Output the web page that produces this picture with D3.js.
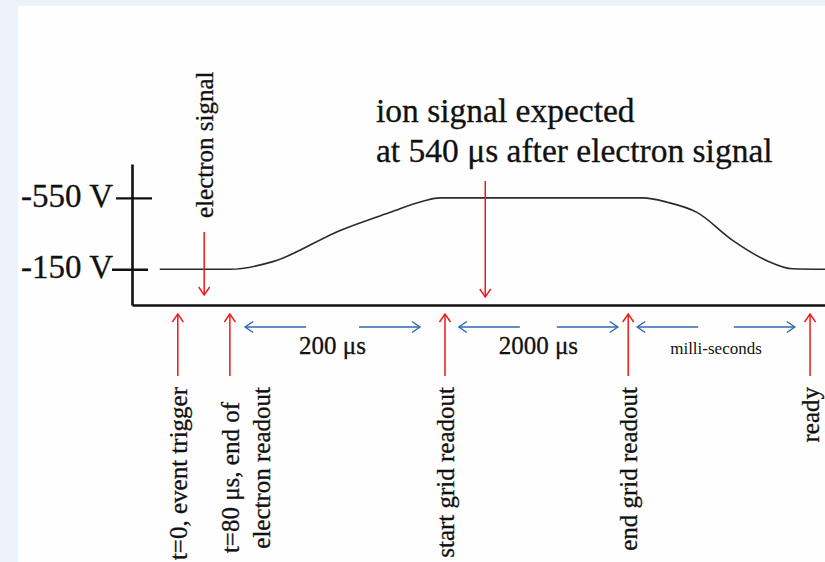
<!DOCTYPE html>
<html>
  <head>
    <meta charset="utf-8" />
    <style>
      body { margin: 0; }
    </style>
  </head>
  <body>

<svg id="graph"></svg>

<script src="https://d3js.org/d3.v7.min.js"></script>
<script>
const WIDTH = 825
const HEIGHT = 562
const FONT = '"Liberation Serif", "Times New Roman", serif'

// schematic time (arbitrary units, 0..1000) of the events under the axis
const EVENT_T = [66, 141, 451, 715, 977]
const EVENT_LABELS = [
  ['t=0, event trigger'],
  ['t=80 μs, end of', 'electron readout'],
  ['start grid readout'],
  ['end grid readout'],
  ['ready'],
]
// durations between events (blue double arrows)
const SPAN_FROM = [163, 471, 728]
const SPAN_TO = [415, 700, 955]
const SPAN_LABELS = ['200 μs', '2000 μs', 'milli-seconds']
// grid voltage along the time line
const CURVE_T = [40, 141, 203, 300, 372, 419, 444, 736, 771, 814, 866, 915, 952, 999]
const CURVE_V = [-150, -150, -193, -368, -469, -531, -550, -550, -526, -469, -311, -198, -153, -150]
// voltage ticks
const V_TICKS = [-550, -150]
// signals
const ELECTRON_T = 104
const ION_T = 509
const ION_TEXT = ['ion signal expected', 'at 540 μs after electron signal']

const RED = '#f01818'
const BLUE = '#2f67b1'

const x = d3.scaleLinear().domain([0, 1000]).range([132, 826])
const y = d3.scaleLinear().domain([50, -740]).range([305, 164])

const svg = d3.select('#graph')
  .attr('width', WIDTH)
  .attr('height', HEIGHT)
  .attr('font-family', FONT)

// fond bleu clair + zone blanche
svg.append('rect').attr('width', WIDTH).attr('height', HEIGHT).attr('fill', '#ebf3fb')
svg.append('rect').attr('x', 18).attr('y', 6).attr('width', WIDTH).attr('height', HEIGHT).attr('fill', '#fefefe')

// têtes de flèches ouvertes
const defs = svg.append('defs')
;[['red', RED], ['blue', BLUE]].forEach(([id, c]) => {
  defs.append('marker')
    .attr('id', 'head-' + id)
    .attr('viewBox', '-10 -7 12 14')
    .attr('markerWidth', 12)
    .attr('markerHeight', 14)
    .attr('markerUnits', 'userSpaceOnUse')
    .attr('refX', 0)
    .attr('refY', 0)
    .attr('orient', 'auto')
    .append('path')
      .attr('d', 'M-8,-5.5L0,0L-8,5.5')
      .attr('fill', 'none')
      .attr('stroke', c)
      .attr('stroke-width', 1.4)
})

// axe Y
const axisY = d3.axisLeft(y)
  .tickValues(V_TICKS)
  .tickSize(0)
  .tickSizeOuter(0)
  .tickPadding(19)
  .tickFormat(d => `${d} V`)

svg.append('g')
  .attr('transform', `translate(${x(0)},0)`)
  .call(axisY)
  .call(g => g.select('.domain').attr('stroke', '#111').attr('stroke-width', 2.6))
  .call(g => g.selectAll('.tick line')
    .attr('x1', (d, i) => i === 0 ? -16 : -20)
    .attr('x2', (d, i) => i === 0 ? 20 : 16)
    .attr('stroke', '#111').attr('stroke-width', 2.4))
  .call(g => g.selectAll('.tick text')
    .attr('font-size', 33)
    .attr('dy', '0.25em'))

// axe X (ligne seule)
svg.append('g')
  .attr('transform', `translate(0,${y(50)})`)
  .call(d3.axisBottom(x).tickValues([]).tickSizeOuter(0))
  .call(g => g.select('.domain').attr('stroke', '#111').attr('stroke-width', 2.6))

// tension de la grille
const line = d3.line()
  .x(d => x(d[0]))
  .y(d => y(d[1]))
  .curve(d3.curveMonotoneX)

svg.append('path')
  .datum(d3.zip(CURVE_T, CURVE_V))
  .attr('d', line)
  .attr('fill', 'none')
  .attr('stroke', '#2a2a2a')
  .attr('stroke-width', 1.6)

// flèches rouges vers le haut (événements)
svg.append('g').selectAll('line')
  .data(EVENT_T)
  .join('line')
    .attr('x1', d => x(d)).attr('x2', d => x(d))
    .attr('y1', 376).attr('y2', 314)
    .attr('stroke', RED)
    .attr('stroke-width', 1.5)
    .attr('marker-end', 'url(#head-red)')

// textes verticaux des événements
svg.append('g').selectAll('text')
  .data(EVENT_T.map((t, i) => ({ t, lines: EVENT_LABELS[i] })))
  .join('text')
    .attr('transform', d => `translate(${x(d.t)},387) rotate(-90)`)
    .attr('text-anchor', 'end')
    .attr('font-size', 25)
    .selectAll('tspan')
    .data(d => d.lines)
    .join('tspan')
      .attr('x', (d, i, n) => n.length > 1 && i === 0 ? -15 : 0)
      .attr('y', (d, i) => i * 31)
      .attr('dy', '0.35em')
      .text(d => d)

// flèches bleues des durées
const spans = svg.append('g').selectAll('g')
  .data(SPAN_LABELS.map((label, i) => ({ from: SPAN_FROM[i], to: SPAN_TO[i], label })))
  .join('g')

const STUB = 61
spans.append('line')
  .attr('x1', d => x(d.from) + STUB).attr('x2', d => x(d.from))
  .attr('y1', 327).attr('y2', 327)
  .attr('stroke', BLUE).attr('stroke-width', 1.4)
  .attr('marker-end', 'url(#head-blue)')
spans.append('line')
  .attr('x1', d => x(d.to) - STUB).attr('x2', d => x(d.to))
  .attr('y1', 327).attr('y2', 327)
  .attr('stroke', BLUE).attr('stroke-width', 1.4)
  .attr('marker-end', 'url(#head-blue)')
spans.append('text')
  .attr('x', d => (x(d.from) + x(d.to)) / 2)
  .attr('y', 354)
  .attr('text-anchor', 'middle')
  .attr('font-size', (d, i) => i === 2 ? 17 : 25)
  .text(d => d.label)

// signal électron
svg.append('line')
  .attr('x1', x(ELECTRON_T)).attr('x2', x(ELECTRON_T))
  .attr('y1', 232).attr('y2', 295)
  .attr('stroke', RED).attr('stroke-width', 1.5)
  .attr('marker-end', 'url(#head-red)')
svg.append('text')
  .attr('transform', `translate(${x(ELECTRON_T)},218) rotate(-90)`)
  .attr('dy', '0.35em')
  .attr('font-size', 25)
  .text('electron signal')

// signal ion
svg.append('line')
  .attr('x1', x(ION_T)).attr('x2', x(ION_T))
  .attr('y1', 181).attr('y2', 297)
  .attr('stroke', RED).attr('stroke-width', 1.5)
  .attr('marker-end', 'url(#head-red)')
svg.append('text')
  .attr('font-size', 33.5)
  .selectAll('tspan')
  .data(ION_TEXT)
  .join('tspan')
    .attr('x', 376)
    .attr('y', (d, i) => 122 + i * 40)
    .text(d => d)

// police serif partout, texte noir un peu plus gras (sauf le petit texte)
svg.selectAll('text')
  .attr('font-family', FONT)
  .attr('fill', '#111')
  .attr('stroke', function () { return +this.getAttribute('font-size') >= 25 ? '#111' : 'none' })
  .attr('stroke-width', 0.3)

</script>
  </body>
</html>
